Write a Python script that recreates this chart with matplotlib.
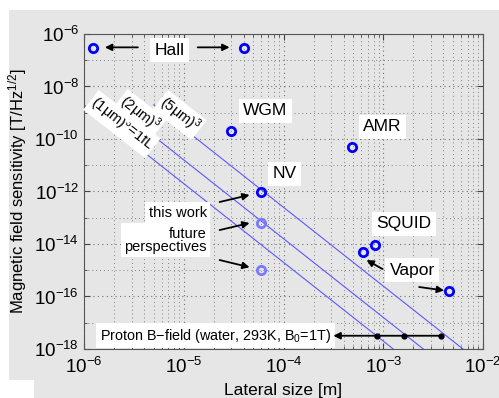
import numpy as np
import matplotlib
matplotlib.use("Agg")
import matplotlib.pyplot as plt
from matplotlib.patches import Rectangle
from matplotlib.ticker import LogLocator, NullFormatter

plt.rcParams['font.family'] = ['Liberation Sans', 'DejaVu Sans']
plt.rcParams['mathtext.default'] = 'regular'

# sensor points (lateral size [m], sensitivity [T/Hz^1/2])
hall_x = [1.23e-6, 4.0e-5]
hall_y = [3.0e-7, 3.0e-7]
other_x = [3.0e-5, 4.9e-4, 5.9e-5, 8.3e-4, 6.2e-4, 4.6e-3]   # WGM, AMR, NV, SQUID, Vapor, Vapor
other_y = [2.0e-10, 5.0e-11, 9.5e-13, 9.1e-15, 5.0e-15, 1.6e-16]
light_x = [5.9e-5, 5.9e-5]   # this work, future perspectives
light_y = [6.5e-14, 1.0e-15]

# volume lines: sensitivity = 2e-9 * (x/L)^-3, starting at x = L
vol_L = [1e-6, 2e-6, 5e-6]
vol_y0 = 2e-9
vol_labels = [r'(1$\mu$m)$^3$=1fL', r'(2$\mu$m)$^3$', r'(5$\mu$m)$^3$']
vol_label_xy = [(2.4e-6, 3.7e-10), (3.6e-6, 8.9e-10), (9.1e-6, 8.2e-10)]

# proton B-field
proton_y = 3.2e-18
proton_dots = [8.7e-4, 1.6e-3, 3.8e-3]
proton_tip = 3.16e-4

gray = '#e6e6e6'
fig = plt.figure(figsize=(4.99, 3.98), dpi=100)
fig.patch.set_facecolor('white')
fig.patches.append(Rectangle((9 / 499, 0), 1, 388 / 398, transform=fig.transFigure,
                             facecolor=gray, edgecolor='none', zorder=-10))
fig.patches.append(Rectangle((0, 0), 34 / 499, 18 / 398, transform=fig.transFigure,
                             facecolor='white', edgecolor='none', zorder=-9))
ax = fig.add_axes([84 / 499, 49 / 398, 399 / 499, 315 / 398])
ax.set_facecolor(gray)
ax.set_xscale('log')
ax.set_yscale('log')
ax.set_xlim(1e-6, 1e-2)
ax.set_ylim(1e-18, 1e-6)

# volume lines
for L in vol_L:
    xs = np.logspace(np.log10(L), -2, 50)
    ax.plot(xs, vol_y0 * (xs / L) ** -3, color='#5a5aff', lw=0.8, zorder=2)
for lab, (tx, ty) in zip(vol_labels, vol_label_xy):
    ax.text(tx, ty, lab, rotation=-38, ha='center', va='center', fontsize=10.5,
            rotation_mode='anchor', zorder=3,
            bbox=dict(boxstyle='square,pad=0.12', fc='white', ec='none'))

# points
ax.plot(hall_x, hall_y, 'o', ms=6, mfc='none', mec='#0000ff', mew=2, zorder=5)
ax.plot(other_x, other_y, 'o', ms=6, mfc='none', mec='#0000ff', mew=2, zorder=5)
ax.plot(light_x, light_y, 'o', ms=6, mfc='none', mec='#7a7aff', mew=2, zorder=5)

box = dict(boxstyle='square,pad=0.25', fc='white', ec='none')
ax.text(7.2e-6, 2.4e-7, 'Hall', fontsize=12.5, ha='center', va='center', bbox=box, zorder=4)
ax.text(6.6e-5, 1.2e-9, 'WGM', fontsize=12.5, ha='center', va='center', bbox=box, zorder=4)
ax.text(9.8e-4, 2.9e-10, 'AMR', fontsize=12.5, ha='center', va='center', bbox=box, zorder=4)
ax.text(1.02e-4, 4.7e-12, 'NV', fontsize=12.5, ha='center', va='center', bbox=box, zorder=4)
ax.text(1.62e-3, 5.8e-14, 'SQUID', fontsize=12.5, ha='center', va='center', bbox=box, zorder=4)
ax.text(1.95e-3, 1.0e-15, 'Vapor', fontsize=12.5, ha='center', va='center', bbox=box, zorder=4)
ax.text(1.7e-5, 1.5e-13, 'this work', fontsize=10.5, ha='right', va='center', bbox=box, zorder=4)
ax.text(1.7e-5, 1.4e-14, 'future\nperspectives', fontsize=10.5, ha='right', va='center',
        linespacing=0.9, bbox=box, zorder=4)
ax.text(1.45e-6, proton_y, 'Proton B\u2212field (water, 293K, B$_0$=1T)', fontsize=10.4,
        ha='left', va='center', bbox=box, zorder=4)

arrows = [
    ((3.47e-6, 3.1e-7), (1.62e-6, 3.1e-7)),
    ((1.38e-5, 3.1e-7), (2.88e-5, 3.1e-7)),
    ((2.29e-5, 3.98e-13), (4.57e-5, 7.4e-13)),
    ((2.29e-5, 3.4e-14), (4.57e-5, 6.3e-14)),
    ((2.29e-5, 2.45e-15), (4.57e-5, 1.3e-15)),
    ((9.8e-4, 1.12e-15), (6.8e-4, 2.45e-15)),
    ((2.29e-3, 2.3e-16), (4.07e-3, 1.7e-16)),
]
for (x0, y0), (x1, y1) in arrows:
    ax.annotate('', xy=(x1, y1), xytext=(x0, y0), zorder=4,
                arrowprops=dict(arrowstyle='-|>', color='black', lw=1.3,
                                mutation_scale=10, shrinkA=0, shrinkB=0))

ax.annotate('', xy=(proton_tip, proton_y), xytext=(proton_dots[-1], proton_y), zorder=4,
            arrowprops=dict(arrowstyle='-|>', color='black', lw=1.3,
                            mutation_scale=10, shrinkA=0, shrinkB=0))
ax.plot(proton_dots, [proton_y] * len(proton_dots), 'o', color='black', ms=3.5, zorder=5)

# axes styling
ax.set_yticks([1e-18, 1e-16, 1e-14, 1e-12, 1e-10, 1e-8, 1e-6])
ax.yaxis.set_minor_locator(LogLocator(base=10, subs=(1.0,), numticks=30))
ax.xaxis.set_minor_locator(LogLocator(base=10, subs=np.arange(2, 10), numticks=30))
ax.yaxis.set_minor_formatter(NullFormatter())
ax.xaxis.set_minor_formatter(NullFormatter())
ax.tick_params(which='both', direction='in', top=True, right=True, colors='#444444',
               labelcolor='black', labelsize=13.5)
ax.tick_params(which='major', length=4)
ax.tick_params(which='minor', length=2)
ax.tick_params(axis='x', pad=6)
ax.grid(True, which='major', ls=(0, (1, 3)), color='#707070', lw=0.8)
ax.grid(True, which='minor', ls=(0, (1, 3)), color='#808080', lw=0.7)
ax.set_axisbelow(True)
for s in ax.spines.values():
    s.set_color('#555555')

ax.set_xlabel('Lateral size [m]', fontsize=12.5, labelpad=4)
ax.set_ylabel('Magnetic field sensitivity [T/Hz$^{1/2}$]', fontsize=12, labelpad=4)

fig.savefig('out.png', dpi=100, facecolor=fig.get_facecolor())
